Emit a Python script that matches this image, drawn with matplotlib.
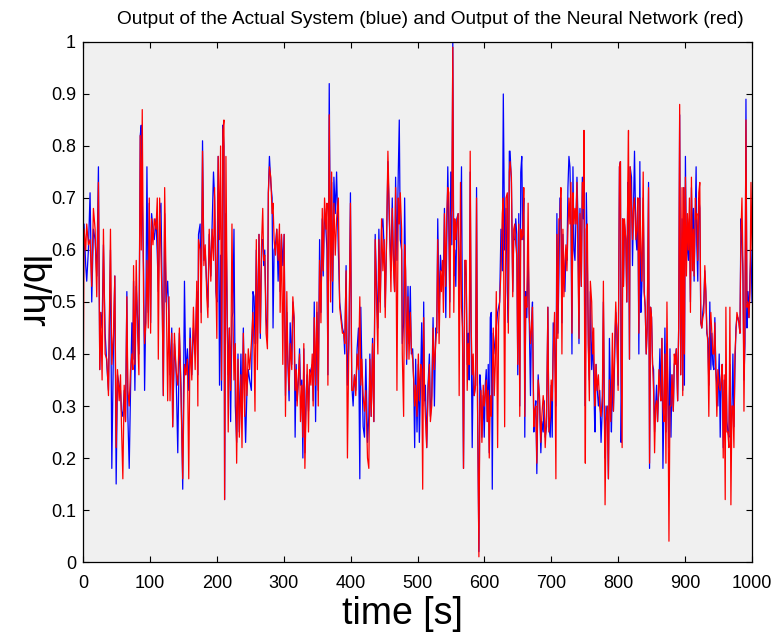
import matplotlib
matplotlib.use("Agg")
import matplotlib.pyplot as plt
from matplotlib.ticker import FormatStrFormatter, MultipleLocator

# time [s], one line per ~125 s stretch
time_s = [
    0, 1.5, 4, 5.5, 8, 10.5, 13, 15.5, 18, 20.5, 23, 25, 26.5, 28.5, 30.5, 33, 35.5, 38, 41, 43, 45.5, 47.5, 49.5, 51.5, 54, 56, 57.5, 59.5, 61.5, 63.5, 65.5, 67, 69, 71, 73, 74.5, 75.5, 77.5, 79.5, 81.5, 83.5, 85.5, 87, 88.5, 90.5, 92, 94, 95.5, 97.5, 99, 101, 102.5, 104.5, 106.5, 109, 111, 112.5, 114.5, 116.5, 118.5, 120, 122, 124, 126.5, 128.5,
    130, 132.6, 134, 136.6, 139, 141.6, 144, 146.6, 149, 151.6, 153.6, 156, 158, 160, 162.6, 165, 167.6, 170, 171.6, 172.6, 175, 176.6, 178.6, 180.6, 182.6, 185, 186.6, 188.6, 191, 193, 195, 196.6, 198.6, 200, 202, 204, 205.6, 207, 209, 210.6, 211.6, 213.6, 215.6, 217, 218.6, 220.6, 222.6, 224, 225.6, 227.6, 229.6, 231.6, 233.6, 236, 237.6, 239.6, 241.6, 243, 245, 247, 249, 251.6, 254,
    255.6, 257, 259, 260.6, 263, 265, 267, 268.6, 270, 271.6, 273.6, 275.6, 277, 278.6, 280.6, 282.6, 284, 285.6, 287.6, 289.6, 291.6, 293.6, 294.6, 296.6, 298.6, 300.6, 302.6, 304.6, 306, 308, 309.6, 312, 313.6, 315.6, 317, 318.6, 320, 322, 323.6, 325, 327, 328.6, 330, 331.6, 333.6, 335, 337, 338.6, 340.6, 342.6, 344, 345.6, 347.6, 349.6, 351.6, 353.6, 355.6, 357.6, 359, 361, 363, 364.6, 366, 368, 370, 371.6, 373, 375, 377, 379, 381.6, 383.6,
    387.7, 389.7, 391.2, 393.2, 395.2, 397.7, 399.7, 401.7, 403.7, 405.7, 407.7, 409.7, 411.7, 413.7, 415.2, 416.7, 418.7, 420.7, 422.7, 425.2, 427.2, 428.7, 430.7, 432.7, 434.7, 436.7, 438.7, 440.7, 442.2, 444.2, 446.2, 448.2, 450.2, 451.7, 453.7, 455.7, 457.7, 460.2, 462.2, 463.7, 465.7, 467.2, 469.2, 471.2, 472.7, 474.2, 476.2, 477.2, 479.2, 480.7, 482.2, 483.7, 485.7, 487.2, 489.2, 490.7, 492.7, 494.2, 495.7, 497.2, 499.2, 501.2, 502.7, 504.7, 506.2, 507.7, 509.2,
    510.5, 511.7, 513.7, 515.7, 517.7, 519.2, 521.2, 523.2, 525.2, 527.2, 528.7, 530.2, 532.2, 534.2, 535.7, 537.2, 538.7, 540.2, 542.2, 543.7, 545.2, 546.7, 548.2, 549.7, 551.2, 552.7, 554.2, 555.7, 557.2, 558.7, 560.7, 562.2, 564.2, 565.7, 567.2, 568.7, 570.7, 572.7, 574.2, 575.7, 577.2, 578.7, 580.2, 581.7, 583.2, 584.7, 586.7, 588.2, 589.7, 591.7, 593.2, 594.7, 596.2, 598.2, 599.7, 601.2, 602.7, 604.2, 605.7, 607.2, 608.7, 610.2, 611.7, 613.2, 614.7, 616.2, 617.7, 619.7, 621.2, 622.7, 624.7, 626.7, 628.2, 630.2, 632.2, 634.2, 635.7, 637.2,
    638.3, 640.3, 642.3, 643.8, 645.3, 646.8, 648.3, 649.8, 651.3, 652.8, 654.3, 655.8, 657.3, 658.8, 660.3, 661.8, 663.3, 665.3, 666.8, 668.8, 670.3, 671.8, 673.8, 675.3, 676.8, 678.3, 680.3, 682.3, 684.3, 685.8, 687.8, 689.3, 690.8, 692.8, 694.8, 696.3, 698.3, 699.8, 701.3, 702.8, 704.8, 706.8, 708.3, 709.8, 711.3, 712.8, 714.3, 715.8, 717.3, 718.8, 720.3, 721.8, 723.3, 724.8, 726.3, 727.8, 729.3, 730.8, 732.3, 733.8, 735.3, 736.8, 738.3, 739.8, 741.3, 742.8, 744.8, 746.3, 747.8, 748.8, 749.8, 750.8, 752.3, 753.8, 755.3, 756.8, 758.3, 760.3, 761.8, 763.3, 764.8,
    765.3, 766.8, 768.3, 770.3, 772.3, 774.3, 776.3, 777.8, 779.3, 780.3, 781.8, 783.8, 785.3, 786.8, 788.8, 789.8, 791.3, 792.8, 794.8, 796.3, 797.8, 799.8, 801.8, 803.3, 804.3, 805.8, 806.8, 807.8, 809.3, 811.3, 812.8, 814.3, 815.3, 816.8, 817.8, 819.8, 821.3, 822.8, 824.3, 826.3, 827.8, 829.3, 830.8, 832.3, 833.8, 835.3, 837.3, 838.8, 840.3, 841.8, 843.3, 845.3, 846.8, 848.3, 849.8, 851.3, 852.8, 854.3, 855.8, 857.3, 858.8, 860.8, 862.3, 863.8, 865.3, 866.8, 868.3, 869.8, 871.3, 872.8, 874.3, 875.8, 877.3, 878.8, 880.3, 882.3, 883.8, 885.3, 886.8, 888.8, 890.3, 891.8,
    893.4, 895.4, 896.4, 897.9, 898.9, 900.4, 901.9, 903.4, 904.9, 906.4, 907.9, 909.4, 910.9, 912.4, 913.4, 915.4, 916.4, 917.4, 918.9, 920.4, 921.9, 923.4, 924.9, 926.4, 927.9, 929.4, 930.9, 932.4, 933.9, 935.4, 936.9, 938.4, 939.9, 941.4, 942.9, 944.4, 945.9, 947.4, 948.9, 950.9, 952.4, 953.9, 955.4, 956.9, 958.4, 959.9, 960.9, 962.4, 963.9, 965.4, 966.9, 968.4, 969.9, 971.4, 972.9, 974.4, 975.9, 977.4, 978.9, 980.4, 981.9, 983.4, 984.9, 986.4, 987.9, 989.4, 990.9, 992.4, 993.9, 995.4, 996.9, 998.4, 1000,
]

# actual system output (blue), lb/hr
actual = [
    .48, .65, .57, .54, .60, .71, .50, .64, .62, .55, .76, .37, .48, .45, .61, .44, .38, .33, .60, .18, .42, .55, .15, .36, .34, .33, .29, .28, .33, .27, .52, .28, .18, .33, .46, .39, .54, .33, .53, .47, .40, .82, .84, .70, .56, .33, .50, .76, .48, .69, .46, .67, .64, .62, .66, .59, .52, .67, .69, .49, .32, .67, .50, .54, .46,
    .36, .45, .26, .42, .37, .21, .44, .33, .14, .54, .36, .41, .33, .45, .36, .45, .40, .52, .36, .63, .65, .48, .81, .58, .60, .53, .49, .63, .55, .65, .75, .70, .52, .50, .78, .34, .59, .33, .84, .80, .12, .67, .45, .36, .45, .27, .47, .48, .64, .30, .23, .40, .25, .40, .28, .45, .30, .23, .33, .37, .35, .33, .52,
    .51, .42, .60, .42, .63, .43, .62, .62, .57, .60, .47, .43, .71, .78, .73, .70, .45, .60, .61, .64, .54, .62, .52, .63, .57, .63, .32, .48, .39, .31, .46, .38, .50, .46, .24, .38, .31, .35, .41, .34, .35, .20, .41, .21, .33, .36, .29, .36, .37, .38, .31, .50, .27, .48, .33, .62, .48, .66, .55, .68, .64, .60, .36, .92, .54, .73, .48, .74, .67, .75, .60, .50,
    .45, .44, .40, .57, .34, .44, .71, .34, .30, .36, .33, .41, .45, .16, .49, .38, .26, .24, .39, .23, .28, .40, .28, .43, .27, .63, .53, .45, .64, .50, .64, .66, .60, .49, .62, .77, .66, .56, .70, .60, .52, .74, .58, .75, .85, .62, .60, .42, .46, .70, .54, .38, .53, .42, .53, .40, .41, .35, .22, .39, .25, .38, .23, .36, .46, .30, .50,
    .31, .34, .22, .34, .40, .28, .32, .47, .30, .45, .44, .66, .48, .59, .56, .56, .55, .68, .47, .62, .76, .65, .50, .75, .61, 1.0, .55, .60, .53, .66, .67, .50, .62, .76, .44, .18, .58, .55, .38, .44, .35, .75, .42, .22, .38, .32, .34, .72, .30, .02, .36, .33, .24, .32, .24, .34, .37, .27, .38, .21, .47, .48, .14, .44, .42, .40, .45, .48, .49, .50, .64, .56, .90, .60, .68, .52, .46, .79,
    .79, .73, .52, .62, .62, .66, .63, .36, .67, .30, .75, .78, .62, .70, .24, .52, .47, .60, .48, .32, .46, .50, .25, .29, .31, .17, .36, .31, .21, .27, .25, .31, .24, .26, .49, .26, .24, .34, .24, .46, .43, .30, .67, .44, .55, .70, .70, .46, .63, .55, .52, .60, .58, .72, .78, .76, .66, .40, .76, .60, .58, .66, .74, .66, .42, .68, .53, .74, .66, .74, .47, .30, .71, .58, .42, .35, .52, .37, .43, .36, .26,
    .25, .38, .34, .30, .33, .23, .30, .50, .28, .20, .30, .28, .16, .43, .30, .25, .36, .29, .40, .48, .45, .34, .76, .77, .23, .40, .66, .53, .65, .62, .50, .73, .70, .39, .76, .74, .57, .68, .79, .63, .60, .70, .40, .77, .48, .53, .70, .52, .49, .40, .45, .73, .18, .49, .47, .38, .37, .25, .30, .34, .27, .34, .41, .31, .43, .18, .30, .45, .25, .42, .32, .22, .41, .24, .36, .29, .38, .39, .41, .31, .45, .86,
    .36, .66, .33, .72, .34, .78, .58, .62, .58, .66, .50, .72, .62, .68, .54, .68, .76, .61, .54, .70, .68, .46, .45, .48, .50, .56, .52, .44, .43, .34, .50, .37, .44, .38, .37, .47, .37, .34, .30, .40, .24, .35, .38, .22, .35, .27, .38, .27, .25, .24, .38, .22, .29, .40, .26, .37, .45, .47, .47, .46, .44, .66, .62, .55, .35, .42, .89, .45, .52, .47, .55, .60, .50,
]

# neural network output (red), lb/hr
network = [
    .24, .64, .60, .65, .61, .62, .53, .68, .64, .51, .73, .37, .48, .35, .64, .40, .39, .32, .64, .38, .44, .55, .22, .37, .31, .36, .26, .16, .34, .27, .51, .33, .30, .37, .40, .37, .57, .38, .58, .44, .36, .82, .60, .87, .50, .42, .46, .58, .45, .70, .44, .66, .61, .66, .64, .70, .39, .70, .59, .48, .32, .72, .55, .31, .51,
    .31, .44, .26, .44, .37, .34, .45, .31, .16, .38, .36, .39, .16, .43, .35, .49, .37, .54, .30, .62, .60, .46, .79, .57, .61, .51, .47, .64, .54, .64, .58, .72, .54, .43, .78, .62, .80, .35, .83, .85, .12, .78, .46, .25, .45, .33, .65, .48, .35, .42, .19, .39, .24, .36, .22, .44, .28, .40, .32, .41, .37, .42, .48,
    .41, .29, .62, .37, .63, .44, .62, .68, .58, .59, .44, .41, .71, .76, .74, .67, .69, .62, .59, .64, .58, .65, .48, .63, .38, .63, .28, .52, .40, .33, .42, .37, .51, .47, .33, .37, .30, .36, .40, .27, .34, .24, .42, .18, .31, .38, .25, .37, .34, .40, .30, .47, .34, .50, .30, .58, .46, .68, .56, .70, .64, .69, .34, .86, .50, .75, .54, .69, .59, .66, .70, .49,
    .44, .44, .42, .56, .20, .46, .69, .33, .33, .36, .32, .40, .37, .51, .34, .39, .32, .29, .33, .20, .18, .39, .28, .42, .27, .62, .50, .40, .62, .48, .66, .56, .62, .47, .62, .79, .68, .52, .68, .58, .52, .72, .33, .70, .65, .71, .64, .40, .28, .61, .56, .39, .51, .39, .48, .41, .39, .35, .30, .34, .28, .40, .31, .38, .37, .14, .47,
    .32, .28, .22, .33, .38, .27, .30, .45, .37, .42, .45, .62, .42, .56, .52, .58, .48, .67, .53, .67, .72, .71, .47, .66, .68, .99, .48, .66, .62, .65, .67, .32, .73, .49, .45, .18, .58, .58, .33, .42, .38, .79, .45, .36, .40, .32, .34, .70, .30, .01, .30, .33, .23, .34, .30, .32, .35, .27, .33, .20, .32, .28, .35, .45, .32, .38, .52, .22, .46, .50, .56, .67, .70, .26, .70, .71, .44, .75,
    .77, .74, .51, .64, .65, .61, .59, .38, .65, .28, .64, .62, .63, .72, .28, .51, .49, .69, .48, .42, .45, .49, .26, .29, .30, .19, .35, .32, .23, .28, .32, .30, .22, .28, .49, .25, .28, .35, .31, .40, .48, .16, .63, .43, .66, .66, .72, .40, .64, .51, .58, .61, .56, .64, .70, .65, .73, .44, .71, .65, .68, .65, .73, .58, .43, .67, .53, .73, .68, .83, .40, .19, .64, .65, .41, .31, .54, .50, .40, .45, .30,
    .31, .38, .33, .36, .30, .28, .32, .54, .30, .11, .27, .30, .16, .35, .27, .32, .44, .29, .43, .50, .44, .33, .76, .77, .40, .22, .66, .53, .66, .62, .50, .73, .83, .39, .76, .68, .62, .68, .70, .62, .64, .70, .44, .70, .60, .54, .75, .52, .49, .40, .45, .72, .19, .49, .47, .38, .33, .21, .30, .31, .27, .37, .33, .31, .43, .30, .27, .40, .19, .50, .32, .04, .30, .30, .36, .29, .40, .38, .41, .31, .45, .88,
    .36, .72, .32, .72, .40, .74, .55, .67, .60, .70, .48, .74, .56, .64, .55, .70, .66, .67, .58, .71, .73, .46, .45, .47, .48, .57, .52, .45, .42, .28, .45, .48, .44, .40, .40, .46, .36, .28, .37, .34, .33, .35, .38, .20, .36, .12, .49, .25, .25, .22, .49, .11, .30, .30, .22, .40, .44, .48, .47, .46, .44, .63, .70, .57, .29, .47, .85, .49, .50, .47, .52, .73, .60,
]

x_ticks = [0, 100, 200, 300, 400, 500, 600, 700, 800, 900, 1000]

plt.rcParams["font.family"] = ["Liberation Sans", "DejaVu Sans"]

fig = plt.figure(figsize=(7.79, 6.42), dpi=100)
ax = fig.add_axes([0.1066, 0.1246, 0.8588, 0.81])
ax.set_facecolor("#f0f0f0")

ax.plot(time_s, actual, color="#0000ff", lw=0.9)
ax.plot(time_s, network, color="#ff0000", lw=0.9)

ax.set_xlim(0, 1000)
ax.set_ylim(0, 1)
ax.set_xticks(x_ticks)
ax.yaxis.set_major_locator(MultipleLocator(0.1))
ax.yaxis.set_major_formatter(FormatStrFormatter("%g"))
ax.tick_params(direction="in", top=True, right=True, length=4, width=0.8,
               labelsize=13)
ax.tick_params(axis="x", pad=9)
ax.tick_params(axis="y", pad=5)
for s in ax.spines.values():
    s.set_linewidth(0.9)

# title sits a bit right of the axes centre, like the original
fig.text(0.553, 0.970, "Output of the Actual System (blue) and Output of the Neural Network (red)",
         fontsize=13.8, ha="center", va="center")

ax.set_xlabel("time [s]", fontsize=27)
ax.xaxis.set_label_coords(0.478, -0.066)
ax.set_ylabel("lb/hr", fontsize=27, rotation=270, va="center", ha="center")
ax.yaxis.set_label_coords(-0.078, 0.519)

fig.savefig("out.png", dpi=100)
